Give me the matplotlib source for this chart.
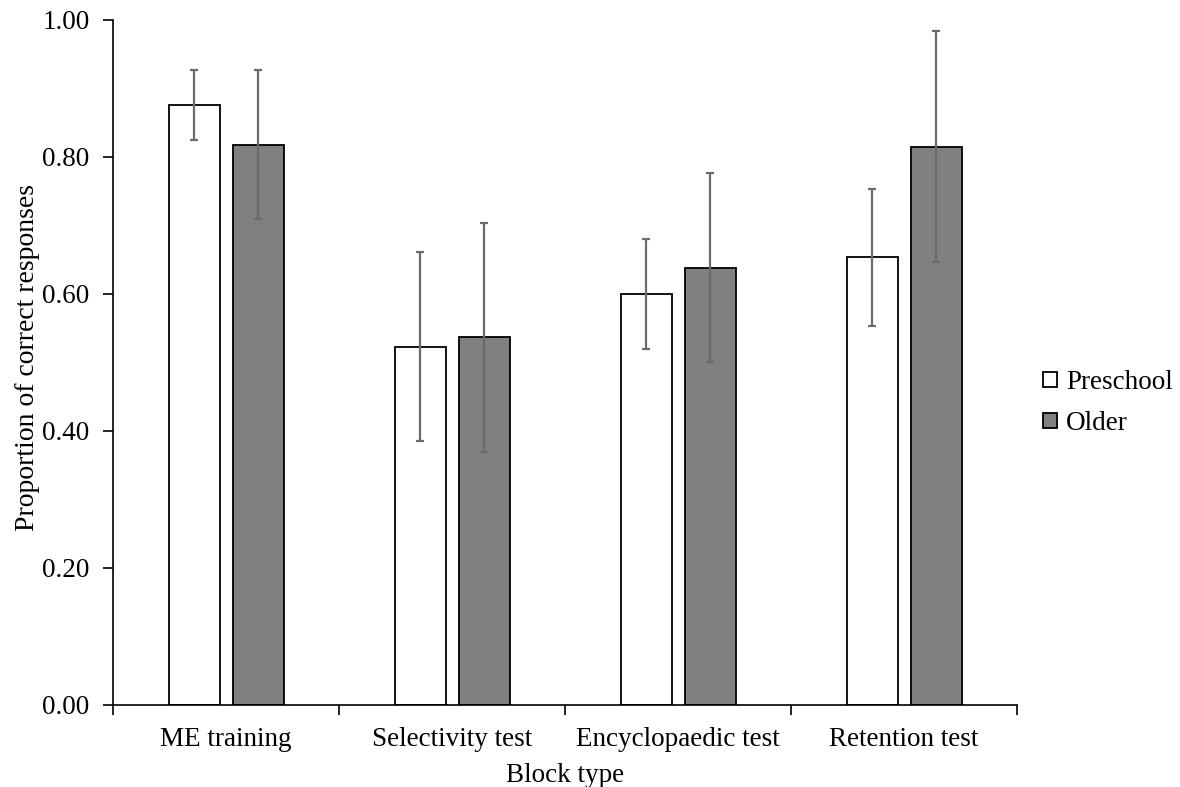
import numpy as np
import matplotlib
matplotlib.use("Agg")
import matplotlib.pyplot as plt
from matplotlib.ticker import FormatStrFormatter

categories = ["ME training", "Selectivity test", "Encyclopaedic test", "Retention test"]
preschool = [0.876, 0.523, 0.600, 0.654]
preschool_err = [0.051, 0.138, 0.081, 0.100]
older = [0.818, 0.537, 0.638, 0.815]
older_err = [0.109, 0.167, 0.138, 0.169]

plt.rcParams["font.family"] = ["Liberation Serif", "DejaVu Serif"]
fs = 19.5

fig = plt.figure(figsize=(11.8, 7.87), dpi=100)
ax = fig.add_axes([0.0958, 0.1042, 0.7661, 0.8704])

x = np.arange(len(categories))
w = 0.226
off = 0.1416
err_kw = dict(ecolor="#6b6b6b", elinewidth=1.6, capsize=3, capthick=1.6)

ax.bar(x - off, preschool, w, yerr=preschool_err, color="white",
       edgecolor="black", linewidth=1.3, label="Preschool", error_kw=err_kw)
ax.bar(x + off, older, w, yerr=older_err, color="#808080",
       edgecolor="black", linewidth=1.3, label="Older", error_kw=err_kw)

ax.set_xlim(-0.5, len(categories) - 0.5)
ax.set_ylim(0, 1.0)
ax.set_yticks(np.arange(0, 1.01, 0.2))
ax.yaxis.set_major_formatter(FormatStrFormatter("%.2f"))

ax.set_xticks(np.arange(-0.5, len(categories), 1.0))
ax.set_xticklabels([])
ax.set_xticks(x, minor=True)
ax.set_xticklabels(categories, minor=True)
ax.tick_params(axis="x", which="minor", length=0, pad=16, labelsize=fs)
ax.tick_params(axis="x", which="major", length=7, width=1.2, direction="out")
ax.tick_params(axis="y", length=7, width=1.2, direction="out", labelsize=fs, pad=10)

for s in ["top", "right"]:
    ax.spines[s].set_visible(False)
for s in ["left", "bottom"]:
    ax.spines[s].set_linewidth(1.2)

ax.set_xlabel("Block type", fontsize=fs, labelpad=8)
ax.set_ylabel("Proportion of correct responses", fontsize=20, labelpad=3)
ax.yaxis.set_label_coords(-0.081, 0.508)

ax.legend(loc="center left", bbox_to_anchor=(1043 / 1180, 1 - 403 / 787),
          bbox_transform=fig.transFigure, frameon=False, fontsize=fs,
          handlelength=0.5, handleheight=0.5, handletextpad=0.35,
          labelspacing=0.6, borderpad=0, borderaxespad=0)

fig.savefig("out.png", dpi=100)
